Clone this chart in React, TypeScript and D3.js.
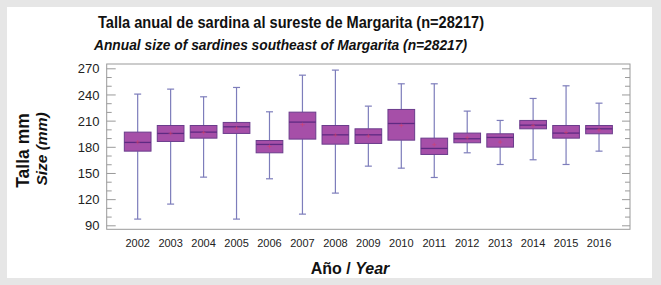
import React from "react";
import * as d3 from "d3";

const years = ["2002","2003","2004","2005","2006","2007","2008","2009","2010","2011","2012","2013","2014","2015","2016"];
const whiskerLow = [97.7, 114.9, 145.8, 97.7, 143.9, 103.4, 127.5, 158.4, 156.1, 145.4, 173.7, 160.3, 165.7, 160.3, 175.6];
const q1 = [175.6, 186.7, 190.5, 195.9, 173.7, 189.4, 183.6, 184.4, 188.2, 171.8, 185.2, 180.2, 201.2, 190.5, 195.5];
const medians = [185.6, 195.9, 197.4, 203.5, 183.3, 208.9, 194.3, 194.3, 207.3, 178.7, 189.8, 191.3, 205.4, 196.3, 201.2];
const q3 = [197.4, 205, 205, 208.5, 187.8, 220.3, 205, 201.2, 223.4, 190.5, 196.3, 195.5, 210.8, 205, 205];
const whiskerHigh = [241, 246.7, 237.9, 248.6, 220.7, 262.7, 268.5, 227.2, 252.8, 252.8, 221.5, 210.8, 236, 250.5, 230.6];
const means = [186, 196, 197, 202, 181, 206, 194, 193, 205, 183, 191, 186, 205, 197, 200];
const yMajorTicks = [90, 120, 150, 180, 210, 240, 270];
const yMinorTicks = [100, 110, 130, 140, 160, 170, 190, 200, 220, 230, 250, 260];

const FONT = "'Liberation Sans', Arial, Helvetica, sans-serif";

export default function App() {
  const W = 661, H = 285;
  const left = 106.7, right = 630, top = 64, bottom = 229.3;
  const x = d3.scalePoint<string>().domain(years).range([left, right]).padding(0.94);
  const y = d3.scaleLinear().domain([86, 275.5]).range([bottom, top]);
  const boxW = 26.7;
  const capW = 7;
  const boxFill = "#a64fa8";
  const boxStroke = "#6b3c8c";
  const whisker = "#7d7dbb";
  const frame = "#9a9a9a";

  return (
    <svg width={W} height={H} style={{ position: "absolute", left: 0, top: 0 }} fontFamily={FONT}>
      <rect x={0} y={0} width={W} height={H} fill="#e6e6e6" />
      <rect x={7} y={7} width={645} height={271} fill="#ffffff" />
      <text x={291} y={28} textAnchor="middle" fontSize={17} fontWeight="bold" fill="#111"
        textLength={386} lengthAdjust="spacingAndGlyphs">
        Talla anual de sardina al sureste de Margarita (n=28217)
      </text>
      <text x={280.5} y={50} textAnchor="middle" fontSize={14} fontWeight="bold" fontStyle="italic" fill="#111"
        textLength={373} lengthAdjust="spacingAndGlyphs">
        Annual size of sardines southeast of Margarita (n=28217)
      </text>

      {/* frame */}
      <rect x={left} y={top} width={right - left} height={bottom - top} fill="none" stroke={frame} strokeWidth={1} />

      {/* y ticks */}
      {yMajorTicks.map((t) => (
        <g key={"M" + t}>
          <line x1={left} x2={left + 9} y1={y(t)} y2={y(t)} stroke={frame} />
          <line x1={right} x2={right - 8} y1={y(t)} y2={y(t)} stroke={frame} />
          <text x={99.5} y={y(t)} dy="0.35em" textAnchor="end" fontSize={13} fill="#222">{t}</text>
        </g>
      ))}
      {yMinorTicks.map((t) => (
        <g key={"m" + t}>
          <line x1={left} x2={left + 5} y1={y(t)} y2={y(t)} stroke={frame} />
          <line x1={right} x2={right - 5} y1={y(t)} y2={y(t)} stroke={frame} />
        </g>
      ))}

      {/* boxes */}
      {years.map((yr, i) => {
        const cx = x(yr) as number;
        return (
          <g key={yr}>
            <line x1={cx} x2={cx} y1={y(whiskerHigh[i])} y2={y(q3[i])} stroke={whisker} strokeWidth={1.2} />
            <line x1={cx} x2={cx} y1={y(q1[i])} y2={y(whiskerLow[i])} stroke={whisker} strokeWidth={1.2} />
            <line x1={cx - capW / 2} x2={cx + capW / 2} y1={y(whiskerHigh[i])} y2={y(whiskerHigh[i])} stroke={whisker} strokeWidth={1.2} />
            <line x1={cx - capW / 2} x2={cx + capW / 2} y1={y(whiskerLow[i])} y2={y(whiskerLow[i])} stroke={whisker} strokeWidth={1.2} />
            <rect x={cx - boxW / 2} y={y(q3[i])} width={boxW} height={y(q1[i]) - y(q3[i])} fill={boxFill} stroke={boxStroke} strokeWidth={1} />
            <line x1={cx - boxW / 2} x2={cx + boxW / 2} y1={y(medians[i])} y2={y(medians[i])} stroke="#5e2a82" strokeWidth={1.3} />
            <g stroke="#d8406a" strokeWidth={0.8} opacity={0.7}>
              <line x1={cx - 2} x2={cx + 2} y1={y(means[i])} y2={y(means[i])} />
              <line x1={cx} x2={cx} y1={y(means[i]) - 2} y2={y(means[i]) + 2} />
            </g>
            <text x={cx} y={247} textAnchor="middle" fontSize={11} fill="#222">{yr}</text>
          </g>
        );
      })}

      {/* axis titles */}
      <text x={350} y={274} textAnchor="middle" fontSize={16} fontWeight="bold" fill="#111">
        Año / <tspan fontStyle="italic">Year</tspan>
      </text>
      <text transform="translate(29,150.5) rotate(-90)" textAnchor="middle" fontSize={17.5} fontWeight="bold" fill="#111">
        Talla mm
      </text>
      <text transform="translate(47,149) rotate(-90)" textAnchor="middle" fontSize={15.5} fontWeight="bold" fontStyle="italic" fill="#111">
        Size (mm)
      </text>
    </svg>
  );
}
